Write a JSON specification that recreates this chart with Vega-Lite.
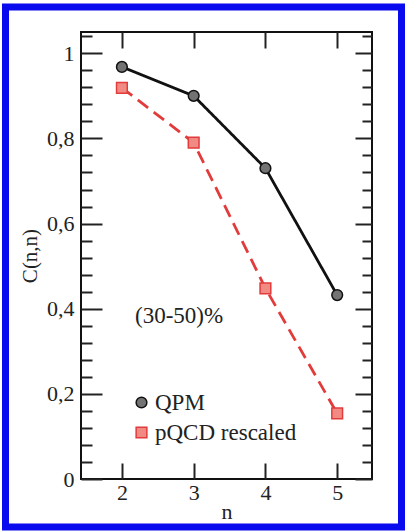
{
  "$schema": "https://vega.github.io/schema/vega-lite/v6.json",
  "width": 291,
  "height": 447,
  "autosize": {"type": "none"},
  "padding": {"left": 81, "top": 32, "right": 33, "bottom": 53},
  "background": "white",
  "config": {
    "view": {"stroke": "#111111", "strokeWidth": 2},
    "font": "Liberation Serif",
    "axis": {
      "grid": false,
      "domain": false,
      "tickColor": "#222222",
      "tickWidth": 2,
      "labelColor": "#222222",
      "labelFont": "Liberation Serif",
      "titleFont": "Liberation Serif",
      "titleFontWeight": "normal",
      "titleColor": "#222222"
    },
    "legend": {
      "padding": 0,
      "labelFont": "Liberation Serif",
      "labelFontSize": 23,
      "labelColor": "#222222",
      "labelOffset": 2,
      "rowPadding": 6,
      "symbolSize": 115,
      "symbolStrokeWidth": 1.5
    }
  },
  "datasets": {
    "series": [
      {"n": 2, "C": 0.968, "series": "QPM"},
      {"n": 3, "C": 0.900, "series": "QPM"},
      {"n": 4, "C": 0.730, "series": "QPM"},
      {"n": 5, "C": 0.432, "series": "QPM"},
      {"n": 2, "C": 0.919, "series": "pQCD rescaled"},
      {"n": 3, "C": 0.790, "series": "pQCD rescaled"},
      {"n": 4, "C": 0.448, "series": "pQCD rescaled"},
      {"n": 5, "C": 0.154, "series": "pQCD rescaled"}
    ],
    "note": [{"label": "(30-50)%"}],
    "frame": [{"part": "border"}]
  },
  "data": {"name": "series"},
  "layer": [
    {
      "data": {"name": "frame"},
      "mark": {"type": "rect", "fillOpacity": 0, "stroke": "#0a0aee", "strokeWidth": 7},
      "encoding": {
        "x": {"datum": 0.378, "type": "quantitative", "scale": {"domain": [1.43, 5.485], "nice": false, "zero": false}, "axis": null},
        "x2": {"datum": 5.896},
        "y": {"datum": 1.1087, "type": "quantitative", "scale": {"domain": [0, 1.05], "nice": false, "zero": false}, "axis": null},
        "y2": {"datum": -0.1128}
      }
    },
    {
      "mark": {"type": "line", "strokeWidth": 2.8},
      "encoding": {
        "x": {
          "field": "n", "type": "quantitative",
          "scale": {"domain": [1.43, 5.485], "nice": false, "zero": false},
          "axis": {"orient": "bottom", "values": [2, 3, 4, 5], "tickSize": -16, "labelPadding": 19, "labelFontSize": 22, "title": "n", "titleFontSize": 22, "titlePadding": -2}
        },
        "y": {
          "field": "C", "type": "quantitative",
          "scale": {"domain": [0, 1.05], "nice": false, "zero": false},
          "axis": {"orient": "left", "values": [0, 0.2, 0.4, 0.6, 0.8, 1], "tickSize": -21, "labelPadding": 28, "labelFontSize": 22, "format": "~g", "labelExpr": "replace(datum.label, '.', ',')", "title": "C(n,n)", "titleFontSize": 21, "titlePadding": 6}
        },
        "color": {"field": "series", "type": "nominal", "scale": {"domain": ["pQCD rescaled", "QPM"], "range": ["#e23b3b", "#111111"]}, "legend": null},
        "strokeDash": {"field": "series", "type": "nominal", "scale": {"domain": ["pQCD rescaled", "QPM"], "range": [[13, 7], [1, 0]]}, "legend": null}
      }
    },
    {
      "mark": {"type": "point", "filled": true, "size": 115, "strokeWidth": 1.5, "opacity": 1},
      "encoding": {
        "x": {"field": "n", "type": "quantitative", "axis": null},
        "y": {"field": "C", "type": "quantitative", "axis": null},
        "shape": {"field": "series", "type": "nominal", "scale": {"domain": ["QPM", "pQCD rescaled"], "range": ["circle", "square"]}, "legend": {"title": null, "orient": "none", "legendX": 49, "legendY": 359}},
        "fill": {"field": "series", "type": "nominal", "scale": {"domain": ["QPM", "pQCD rescaled"], "range": ["#737373", "#f08a82"]}, "legend": {"title": null, "orient": "none", "legendX": 49, "legendY": 359}},
        "stroke": {"field": "series", "type": "nominal", "scale": {"domain": ["QPM", "pQCD rescaled"], "range": ["#111111", "#e23b3b"]}, "legend": {"title": null, "orient": "none", "legendX": 49, "legendY": 359}}
      }
    },
    {
      "mark": {"type": "point", "opacity": 0},
      "encoding": {
        "x": {"field": "n", "type": "quantitative", "axis": {"orient": "top", "values": [2, 3, 4, 5], "labels": false, "tickSize": -16, "title": null}},
        "y": {"field": "C", "type": "quantitative", "axis": {"orient": "right", "values": [0, 0.2, 0.4, 0.6, 0.8, 1], "labels": false, "tickSize": -17, "title": null}}
      }
    },
    {
      "mark": {"type": "point", "opacity": 0},
      "encoding": {
        "x": {"field": "n", "type": "quantitative", "axis": null},
        "y": {"field": "C", "type": "quantitative", "axis": {"orient": "left", "values": [0.04, 0.08, 0.12, 0.16, 0.24, 0.28, 0.32, 0.36, 0.44, 0.48, 0.52, 0.56, 0.64, 0.68, 0.72, 0.76, 0.84, 0.88, 0.92, 0.96, 1.04], "labels": false, "tickSize": -11, "title": null}}
      }
    },
    {
      "mark": {"type": "point", "opacity": 0},
      "encoding": {
        "x": {"field": "n", "type": "quantitative", "axis": null},
        "y": {"field": "C", "type": "quantitative", "axis": {"orient": "right", "values": [0.04, 0.08, 0.12, 0.16, 0.24, 0.28, 0.32, 0.36, 0.44, 0.48, 0.52, 0.56, 0.64, 0.68, 0.72, 0.76, 0.84, 0.88, 0.92, 0.96, 1.04], "labels": false, "tickSize": -10, "title": null}}
      }
    },
    {
      "data": {"name": "note"},
      "mark": {"type": "text", "align": "left", "baseline": "middle", "fontSize": 23, "font": "Liberation Serif", "color": "#222222"},
      "encoding": {
        "x": {"datum": 2.183, "type": "quantitative", "axis": null},
        "y": {"datum": 0.384, "type": "quantitative", "axis": null},
        "text": {"field": "label", "type": "nominal"}
      }
    }
  ],
  "resolve": {
    "scale": {"x": "shared", "y": "shared"},
    "axis": {"x": "independent", "y": "independent"}
  }
}
